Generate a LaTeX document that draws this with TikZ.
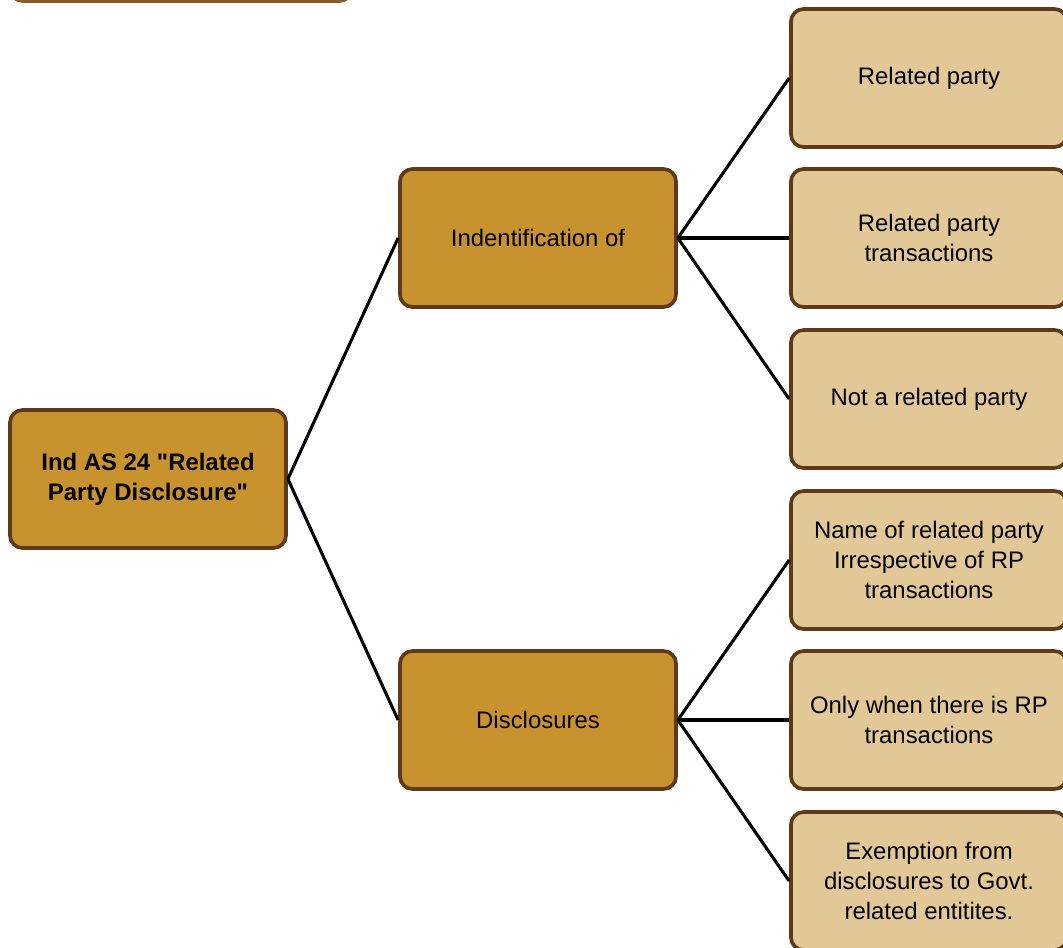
\documentclass[tikz,border=0pt]{standalone}
\usepackage{fontspec}
\setmainfont{Liberation Sans}
\usepackage{xcolor}
\usetikzlibrary{calc}
\definecolor{rpdark}{HTML}{C8922F}
\definecolor{rplight}{HTML}{E1C896}
\definecolor{rpedge}{HTML}{5E3A18}
\definecolor{rptop}{HTML}{8B5A2B}
\tikzset{
	rpbox/.style={
			draw=rpedge, line width=2.6pt, rounded corners=9pt,
			minimum width=6.9cm, minimum height=3.45cm,
			align=center, font=\fontsize{17}{21.3}\selectfont
		},
	rpmain/.style={rpbox, fill=rpdark},
	rpleaf/.style={rpbox, fill=rplight},
	rplink/.style={line width=2.2pt}
}

\begin{document}
\begin{tikzpicture}[x=0.025cm,y=-0.025cm]
			\useasboundingbox (0,0) rectangle (1063,947);
			\draw[rptop, line width=2.6pt, rounded corners=9pt] (10,-60) rectangle (352,1);
			\node[rpmain, font=\fontsize{17}{21.3}\selectfont\bfseries] (root) at (148,479) {Ind AS 24 \textquotedbl Related\\Party Disclosure\textquotedbl};
			\node[rpmain] (ident) at (538,238) {Indentification of};
			\node[rpmain] (discl) at (538,720) {Disclosures};
			\node[rpleaf] (rp) at (929,78) {Related party};
			\node[rpleaf] (rptrans) at (929,238) {Related party\\transactions};
			\node[rpleaf] (notrp) at (929,399) {Not a related party};
			\node[rpleaf] (name) at (929,560) {Name of related party\\Irrespective of RP\\transactions};
			\node[rpleaf] (only) at (929,720) {Only when there is RP\\transactions};
			\node[rpleaf] (exempt) at (929,881) {Exemption from\\disclosures to Govt.\\related entitites.};
			\draw[rplink] (root.east) -- (ident.west);
			\draw[rplink] (root.east) -- (discl.west);
			\foreach \leaf in {rp,rptrans,notrp}
				\draw[rplink] (ident.east) -- (\leaf.west);
			\foreach \leaf in {name,only,exempt}
				\draw[rplink] (discl.east) -- (\leaf.west);
		\end{tikzpicture}
\end{document}
